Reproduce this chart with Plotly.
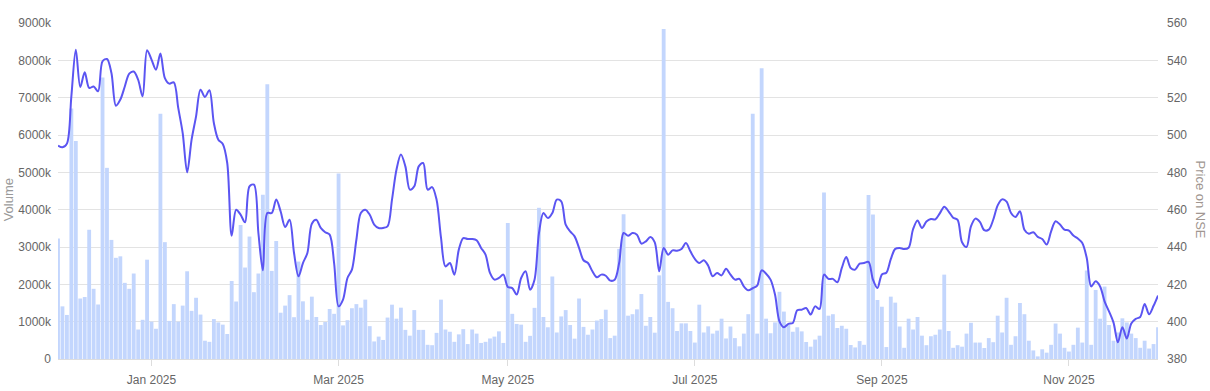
import pandas as pd
import plotly.graph_objects as go

# NSE trading calendar (weekends + exchange holidays skipped)
start_date = "2024-12-02"
holidays = ["2024-12-25", "2025-02-26", "2025-03-14", "2025-03-31", "2025-04-10",
            "2025-04-14", "2025-04-18", "2025-05-01", "2025-08-15", "2025-08-27",
            "2025-10-02", "2025-10-21", "2025-10-22", "2025-11-05"]

# Daily traded volume (thousands of shares)
volume_k = [
    3230, 1410, 1180, 6710, 5840, 1620, 1660, 3460, 1880, 1460,
    7540, 5120, 3190, 2710, 2750, 2040, 1880, 2290, 790, 1050,
    2660, 1000, 810, 6570, 3130, 1020, 1470, 1000, 1430, 2350,
    1290, 1640, 1190, 490, 460, 1070, 980, 920, 670, 2090,
    1540, 3590, 2450, 3280, 1790, 2290, 4400, 7360, 2360, 3160,
    1240, 1430, 1710, 1120, 2610, 1545, 1050, 1670, 1125, 910,
    990, 1340, 1210, 4970, 900, 1040, 1360, 1470, 1375, 1590,
    880, 470, 600, 510, 1110, 1455, 1080, 1375, 780, 625,
    1310, 780, 780, 380, 370, 700, 1590, 790, 730, 460,
    660, 800, 400, 790, 680, 430, 460, 550, 600, 740,
    430, 3640, 1210, 940, 920, 460, 620, 1370, 4050, 1125,
    850, 2210, 710, 1140, 1310, 910, 545, 1620, 860, 650,
    790, 1030, 1070, 1320, 560, 625, 2950, 3875, 1160, 1200,
    1330, 1740, 890, 1125, 705, 2240, 8840, 1530, 1360, 750,
    955, 955, 750, 440, 1455, 710, 875, 680, 760, 1080,
    550, 870, 560, 340, 680, 1200, 6570, 680, 7790, 1080,
    690, 980, 1800, 1270, 910, 730, 850, 740, 455, 330,
    520, 625, 4460, 1160, 1200, 830, 890, 810, 375, 310,
    480, 380, 4390, 3870, 1580, 1400, 320, 1670, 1510, 870,
    300, 1080, 790, 1125, 625, 370, 610, 650, 790, 2260,
    750, 300, 370, 330, 680, 970, 440, 440, 295, 560,
    450, 1160, 710, 1640, 380, 610, 1500, 1200, 490, 230,
    70, 260, 170, 380, 950, 680, 300, 200, 380, 840,
    440, 2370, 380, 1850, 1080, 1940, 910, 490, 710, 1090,
    980, 680, 560, 300, 490, 280, 400, 850,
]

# Closing price on NSE
price = [
    494.3, 493.4, 495.4, 520.7, 545.7, 525.7, 533.6, 525.2, 526.0, 523.4,
    539.5, 540.7, 533.2, 515.7, 519.0, 526.0, 532.9, 534.0, 529.6, 520.7,
    545.4, 540.4, 535.0, 543.6, 530.5, 527.5, 528.2, 514.5, 501.0, 480.0,
    497.5, 510.0, 524.3, 520.4, 524.0, 506.4, 497.5, 495.2, 485.0, 446.0,
    460.0, 457.3, 453.2, 472.5, 473.4, 447.5, 427.5, 458.2, 458.2, 465.4,
    459.0, 450.7, 454.6, 436.8, 424.3, 431.4, 436.8, 452.5, 454.6, 450.2,
    447.9, 446.6, 431.4, 408.2, 411.8, 423.4, 427.9, 443.9, 458.2, 460.0,
    457.3, 452.0, 450.2, 450.2, 451.0, 465.4, 481.4, 489.5, 483.2, 470.7,
    472.5, 483.2, 485.0, 470.7, 472.1, 465.4, 445.0, 429.6, 431.4, 425.2,
    438.6, 444.8, 444.3, 444.3, 443.6, 439.5, 435.9, 426.1, 422.5, 423.4,
    425.2, 418.6, 418.0, 414.5, 423.4, 427.0, 417.1, 422.5, 447.5, 458.2,
    455.5, 458.2, 465.4, 464.5, 452.0, 448.4, 445.7, 439.5, 432.9, 431.4,
    427.0, 423.8, 425.2, 424.6, 422.0, 422.5, 431.4, 447.5, 446.0, 447.5,
    446.6, 441.8, 443.0, 445.4, 442.5, 427.0, 439.5, 435.9, 438.2, 438.0,
    438.9, 442.1, 437.7, 433.6, 431.4, 432.9, 430.0, 424.3, 426.1, 424.8,
    428.4, 425.2, 422.5, 422.9, 418.9, 416.8, 417.9, 419.3, 427.5, 425.7,
    422.5, 414.5, 400.2, 397.0, 398.8, 399.3, 406.1, 406.4, 407.3, 403.8,
    408.2, 406.8, 425.2, 422.9, 422.9, 421.1, 428.8, 434.6, 428.8, 427.9,
    431.1, 431.4, 432.0, 422.5, 418.0, 425.3, 426.2, 433.5, 439.0, 439.5,
    438.9, 439.6, 449.5, 454.2, 450.2, 453.6, 455.0, 454.8, 458.0, 461.6,
    459.0, 455.7, 454.5, 442.5, 440.0, 451.0, 455.2, 453.5, 449.0, 449.3,
    454.6, 462.3, 465.5, 464.3, 458.2, 456.1, 459.1, 449.3, 447.1, 447.9,
    445.4, 444.3, 441.3, 448.4, 453.8, 452.0, 449.3, 448.8, 446.1, 444.5,
    442.1, 434.1, 418.9, 421.6, 418.9, 410.9, 405.5, 399.6, 389.0, 397.0,
    391.0, 399.0, 401.5, 402.5, 409.5, 404.0, 408.5, 414.0,
]

vol_ticks = [0, 1000, 2000, 3000, 4000, 5000, 6000, 7000, 8000, 9000]
vol_ticktext = ["0", "1000k", "2000k", "3000k", "4000k", "5000k", "6000k", "7000k", "8000k", "9000k"]
price_ticks = [380, 400, 420, 440, 460, 480, 500, 520, 540, 560]

dates = pd.bdate_range(start_date, periods=len(volume_k), freq="C", holidays=holidays)
x = [d.strftime("%Y-%m-%d") for d in dates]

# first trading day of every odd month -> "Mon YYYY" tick
tickvals, ticktext = [], []
for i in range(1, len(dates)):
    if dates[i].month != dates[i - 1].month and dates[i].month % 2 == 1:
        tickvals.append(x[i])
        ticktext.append(dates[i].strftime("%b %Y"))

FONT = "Arial, Liberation Sans, sans-serif"
TICK = dict(family=FONT, size=12, color="#666666")

fig = go.Figure()
fig.add_trace(go.Bar(x=x, y=volume_k, marker=dict(color="#c3d6fd", line=dict(width=0)),
                     name="Volume", yaxis="y"))
fig.add_trace(go.Scatter(x=x, y=price, mode="lines", name="Price",
                         line=dict(color="#5b55f2", width=2, shape="spline", smoothing=0.9),
                         yaxis="y2"))

fig.update_layout(
    width=1210, height=391,
    margin=dict(l=58, r=52, t=23, b=32, autoexpand=False),
    paper_bgcolor="white", plot_bgcolor="white",
    showlegend=False, bargap=0.14,
    xaxis=dict(type="category", range=[0, len(x) - 1], tickmode="array",
               tickvals=tickvals, ticktext=ticktext, tickfont=TICK,
               showgrid=False, showline=True, linecolor="#dddddd", linewidth=1,
               ticks="outside", ticklen=6, tickcolor="#dddddd", zeroline=False,
               ticklabelstandoff=4, automargin=False),
    yaxis=dict(range=[0, 9000], tickmode="array", tickvals=vol_ticks, ticktext=vol_ticktext,
               tickfont=TICK, showgrid=True, gridcolor="#e3e3e3", gridwidth=1,
               zeroline=False, showline=False, ticks="", ticklabelstandoff=6,
               automargin=False),
    yaxis2=dict(range=[380, 560], tickmode="array", tickvals=price_ticks,
                tickfont=TICK, overlaying="y", side="right", showgrid=False,
                zeroline=False, showline=False, ticks="", ticklabelstandoff=8,
                automargin=False),
    annotations=[
        dict(text="Volume", xref="paper", yref="paper", x=-0.0455, y=0.475,
             xanchor="center", yanchor="middle",
             textangle=-90, showarrow=False, font=dict(family=FONT, size=13, color="#999999")),
        dict(text="Price on NSE", xref="paper", yref="paper", x=1.039, y=0.475,
             xanchor="center", yanchor="middle",
             textangle=90, showarrow=False, font=dict(family=FONT, size=13, color="#a09690")),
    ],
)

fig.write_html("out.html")
